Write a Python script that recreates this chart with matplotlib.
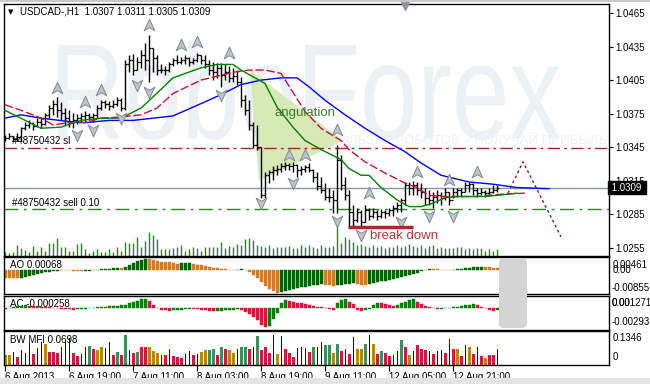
import numpy as np
import matplotlib
matplotlib.use('Agg')
import matplotlib.pyplot as plt
from matplotlib.path import Path
from matplotlib.patches import PathPatch, Polygon, FancyBboxPatch, Rectangle
from matplotlib.textpath import TextPath
from matplotlib.font_manager import FontProperties
from matplotlib.transforms import Affine2D, IdentityTransform, blended_transform_factory

plt.rcParams['font.family'] = ['Liberation Sans', 'DejaVu Sans']

W, H = 650, 384

# ---------------- data: USDCAD H1 bars ----------------
first_open = 1.0354
highs = [1.0356, 1.0358, 1.0355, 1.0358, 1.0363, 1.0368, 1.0369, 1.0368, 1.0371, 1.0371,
         1.0376, 1.0383, 1.0387, 1.0390, 1.0385, 1.0380, 1.0378, 1.0376, 1.0375, 1.0376,
         1.0377, 1.0376, 1.0376, 1.0383, 1.0387, 1.0387, 1.0386, 1.0387, 1.0390, 1.0389,
         1.0423, 1.0427, 1.0428, 1.0426, 1.0432, 1.0438, 1.0445, 1.0434, 1.0427, 1.0419,
         1.0418, 1.0421, 1.0425, 1.0427, 1.0426, 1.0427, 1.0426, 1.0425, 1.0429, 1.0427,
         1.0427, 1.0423, 1.0421, 1.0420, 1.0420, 1.0419, 1.0418, 1.0416, 1.0414, 1.0408,
         1.0392, 1.0387, 1.0368, 1.0365, 1.0345, 1.0323, 1.0325, 1.0328, 1.0329, 1.0331,
         1.0332, 1.0331, 1.0332, 1.0330, 1.0328, 1.0329, 1.0331, 1.0326, 1.0323, 1.0318,
         1.0313, 1.0309, 1.0307, 1.0347, 1.0338, 1.0318, 1.0307, 1.0293, 1.0291, 1.0289,
         1.0293, 1.0291, 1.0291, 1.0289, 1.0290, 1.0289, 1.0291, 1.0293, 1.0296, 1.0300,
         1.0314, 1.0314, 1.0315, 1.0314, 1.0313, 1.0309, 1.0307, 1.0305, 1.0307, 1.0305,
         1.0309, 1.0305, 1.0309, 1.0309, 1.0309, 1.0314, 1.0314, 1.0313, 1.0309, 1.0309,
         1.0307, 1.0309, 1.0311, 1.0311]
lows = [1.0351, 1.0352, 1.0351, 1.0351, 1.0351, 1.0360, 1.0362, 1.0360, 1.0363, 1.0362,
        1.0365, 1.0371, 1.0374, 1.0372, 1.0369, 1.0365, 1.0363, 1.0362, 1.0366, 1.0368,
        1.0368, 1.0369, 1.0368, 1.0371, 1.0378, 1.0380, 1.0378, 1.0380, 1.0382, 1.0377,
        1.0378, 1.0412, 1.0410, 1.0414, 1.0416, 1.0414, 1.0403, 1.0412, 1.0410, 1.0411,
        1.0410, 1.0412, 1.0418, 1.0419, 1.0419, 1.0419, 1.0418, 1.0419, 1.0421, 1.0419,
        1.0416, 1.0410, 1.0405, 1.0407, 1.0399, 1.0405, 1.0403, 1.0403, 1.0401, 1.0381,
        1.0374, 1.0360, 1.0344, 1.0343, 1.0300, 1.0300, 1.0313, 1.0316, 1.0320, 1.0323,
        1.0325, 1.0325, 1.0323, 1.0318, 1.0320, 1.0323, 1.0323, 1.0314, 1.0307, 1.0304,
        1.0298, 1.0296, 1.0286, 1.0286, 1.0307, 1.0298, 1.0274, 1.0275, 1.0278, 1.0274,
        1.0278, 1.0280, 1.0282, 1.0280, 1.0282, 1.0282, 1.0284, 1.0284, 1.0287, 1.0287,
        1.0293, 1.0302, 1.0302, 1.0302, 1.0300, 1.0293, 1.0293, 1.0291, 1.0295, 1.0293,
        1.0298, 1.0293, 1.0300, 1.0301, 1.0301, 1.0305, 1.0305, 1.0302, 1.0301, 1.0302,
        1.0301, 1.0302, 1.0304, 1.0305]
closes = [1.0353, 1.0355, 1.0352, 1.0354, 1.0362, 1.0365, 1.0367, 1.0364, 1.0368, 1.0366,
          1.0374, 1.0380, 1.0384, 1.0378, 1.0376, 1.0371, 1.0368, 1.0369, 1.0371, 1.0373,
          1.0374, 1.0372, 1.0374, 1.0380, 1.0385, 1.0384, 1.0382, 1.0384, 1.0387, 1.0380,
          1.0419, 1.0423, 1.0414, 1.0421, 1.0427, 1.0423, 1.0434, 1.0425, 1.0414, 1.0414,
          1.0414, 1.0419, 1.0423, 1.0421, 1.0423, 1.0425, 1.0421, 1.0423, 1.0427, 1.0423,
          1.0419, 1.0414, 1.0412, 1.0416, 1.0410, 1.0412, 1.0407, 1.0409, 1.0403, 1.0387,
          1.0378, 1.0365, 1.0347, 1.0345, 1.0302, 1.0320, 1.0323, 1.0325, 1.0326, 1.0328,
          1.0329, 1.0328, 1.0329, 1.0325, 1.0326, 1.0327, 1.0325, 1.0318, 1.0310, 1.0307,
          1.0301, 1.0301, 1.0298, 1.0334, 1.0311, 1.0302, 1.0287, 1.0280, 1.0287, 1.0278,
          1.0289, 1.0284, 1.0287, 1.0284, 1.0287, 1.0286, 1.0289, 1.0291, 1.0293, 1.0298,
          1.0311, 1.0309, 1.0311, 1.0307, 1.0305, 1.0300, 1.0298, 1.0301, 1.0302, 1.0300,
          1.0305, 1.0298, 1.0305, 1.0307, 1.0305, 1.0311, 1.0312, 1.0307, 1.0304, 1.0305,
          1.0304, 1.0305, 1.0307, 1.0309]
volumes = [400, 300, 400, 1100, 800, 600, 400, 1000, 500, 900,
           500, 1300, 1300, 1800, 900, 900, 500, 500, 1200, 1300,
           700, 300, 500, 700, 400, 400, 700, 400, 900, 500,
           1400, 1300, 1300, 1900, 900, 1500, 2400, 2100, 1700, 700,
           700, 700, 800, 900, 1100, 500, 700, 900, 800, 500,
           900, 900, 900, 900, 1400, 800, 1000, 900, 1200, 1100,
           1700, 1800, 1600, 1100, 1000, 900, 1100, 800, 900, 900,
           900, 1000, 800, 800, 1100, 900, 1100, 900, 800, 1100,
           900, 900, 1000, 3500, 1300, 1900, 1700, 1400, 1100, 1200,
           1000, 900, 1100, 900, 1000, 800, 900, 900, 1100, 900,
           1000, 1200, 1000, 900, 1100, 800, 1000, 1100, 800, 900,
           800, 800, 800, 900, 900, 700, 800, 700, 800, 800,
           500, 700, 500, 700]

# Alligator lines (bar index, price)
jaw_x = [0, 4, 9, 16, 20, 26, 32, 37, 42, 49, 54, 59, 64, 69, 73, 76, 80, 85, 90, 95,
         100, 104, 109, 116, 122, 128, 136]
jaw_y = [1.0371, 1.0374, 1.0371, 1.0368, 1.0367, 1.0369, 1.0369, 1.0371, 1.0373, 1.0384,
         1.0392, 1.0401, 1.0405, 1.0407, 1.0407, 1.0399, 1.0387, 1.0374, 1.0362, 1.0351,
         1.0341, 1.0331, 1.0320, 1.0314, 1.0312, 1.0309, 1.0308]
teeth_x = [0, 4, 9, 12, 16, 20, 24, 29, 34, 38, 42, 49, 57, 61, 65, 69, 72, 75, 79, 84,
           86, 90, 95, 100, 103, 106, 110, 118, 124, 130]
teeth_y = [1.0383, 1.0378, 1.0371, 1.0365, 1.0367, 1.0367, 1.0371, 1.0372, 1.0374, 1.0380,
           1.0393, 1.0405, 1.0412, 1.0414, 1.0414, 1.0411, 1.0394, 1.0377, 1.0362, 1.0351,
           1.0343, 1.0332, 1.0322, 1.0313, 1.0309, 1.0302, 1.0301, 1.0301, 1.0303, 1.0304]
lips_x = [0, 9, 14, 19, 24, 29, 34, 37, 42, 49, 53, 57, 59, 62, 65, 68, 72, 75, 79, 84,
          86, 89, 91, 94, 98, 101, 104, 107, 110, 113, 116, 120, 123, 128]
lips_y = [1.0378, 1.0362, 1.0363, 1.0369, 1.0371, 1.0371, 1.0380, 1.0390, 1.0407, 1.0416,
          1.0419, 1.0419, 1.0414, 1.0408, 1.0402, 1.0381, 1.0363, 1.0351, 1.0343, 1.0334,
          1.0326, 1.0320, 1.0320, 1.0309, 1.0298, 1.0292, 1.0292, 1.0295, 1.0300, 1.0301,
          1.0301, 1.0301, 1.0302, 1.0304]

# fractals
frac_up_idx = [13, 20, 24, 36, 44, 48, 56, 71, 75, 83, 91, 103, 111, 118]
frac_up_price = [1.0398, 1.0385, 1.0396, 1.0454, 1.0436, 1.0439, 1.0429, 1.0338, 1.0338,
                 1.0360, 1.0304, 1.0323, 1.0316, 1.0323]
frac_dn_idx = [18, 22, 29, 33, 36, 54, 64, 72, 83, 89, 99, 106, 112]
frac_dn_price = [1.0356, 1.0360, 1.0371, 1.0401, 1.0394, 1.0392, 1.0295, 1.0313, 1.0279,
                 1.0267, 1.0278, 1.0284, 1.0284]

# order lines
sl_price = 1.0344
entry_price = 1.0290
last_price = 1.0309

# Awesome Oscillator
ao = [-0.0027, -0.0028, -0.0029, -0.0030, -0.0027, -0.0024, -0.0020, -0.0017, -0.0014, -0.0011,
      -0.0008, -0.0006, -0.0004, -0.0002, 0.0001, 0.0000, -0.0001, -0.0002, -0.0003, -0.0004,
      -0.0003, -0.0002, -0.0001, 0.0001, 0.0003, 0.0004, 0.0005, 0.0006, 0.0008, 0.0007,
      0.0011, 0.0017, 0.0024, 0.0031, 0.0036, 0.0040, 0.0038, 0.0035, 0.0032, 0.0030,
      0.0028, 0.0027, 0.0024, 0.0022, 0.0023, 0.0024, 0.0025, 0.0022, 0.0019, 0.0016,
      0.0013, 0.0010, 0.0008, 0.0006, 0.0004, 0.0002, 0.0001, 0.0000, 0.0001, 0.0002,
      0.0001, -0.0008, -0.0018, -0.0030, -0.0043, -0.0056, -0.0067, -0.0076, -0.0082, -0.0079,
      -0.0075, -0.0071, -0.0067, -0.0064, -0.0061, -0.0059, -0.0057, -0.0055, -0.0053, -0.0051,
      -0.0053, -0.0055, -0.0056, -0.0054, -0.0052, -0.0050, -0.0049, -0.0048, -0.0050, -0.0052,
      -0.0053, -0.0050, -0.0047, -0.0044, -0.0041, -0.0038, -0.0035, -0.0032, -0.0029, -0.0026,
      -0.0022, -0.0018, -0.0014, -0.0010, -0.0005, 0.0001, 0.0004, 0.0003, 0.0002, 0.0001,
      0.0000, -0.0001, 0.0001, 0.0003, 0.0005, 0.0007, 0.0008, 0.0009, 0.0010, 0.0011,
      0.0010, 0.0009, 0.0008, 0.00068]

# Accelerator Oscillator
ac = [-0.00010, 0.00005, 0.00015, 0.00025, 0.00035, 0.00040, 0.00030, 0.00025, 0.00030, 0.00020,
      0.00015, 0.00010, 0.00005, 0.00000, -0.00005, -0.00010, -0.00015, -0.00020, -0.00015, -0.00010,
      -0.00005, 0.00000, 0.00005, 0.00010, 0.00015, 0.00020, 0.00025, 0.00030, 0.00035, 0.00040,
      0.00050, 0.00070, 0.00090, 0.00105, 0.00120, 0.00127, 0.00095, 0.00040, 0.00000, -0.00020,
      -0.00030, -0.00035, -0.00030, -0.00025, -0.00020, -0.00015, -0.00010, -0.00012, -0.00015, -0.00020,
      -0.00030, -0.00040, -0.00045, -0.00040, -0.00035, -0.00030, -0.00025, -0.00020, -0.00015, -0.00030,
      -0.00050, -0.00080, -0.00120, -0.00165, -0.00225, -0.00265, -0.00240, -0.00150, -0.00060, 0.00070,
      0.00116, 0.00093, 0.00080, 0.00070, 0.00065, 0.00056, 0.00047, 0.00037, 0.00023, 0.00014,
      0.00000, -0.00014, -0.00020, 0.00070, 0.00110, 0.00125, 0.00090, 0.00060, -0.00020, -0.00045,
      -0.00030, -0.00010, 0.00040, 0.00070, 0.00065, 0.00055, 0.00040, 0.00030, 0.00045, 0.00070,
      0.00090, 0.00110, 0.00120, 0.00090, 0.00060, 0.00030, 0.00010, 0.00000, -0.00010, -0.00005,
      0.00000, 0.00005, 0.00010, 0.00015, 0.00025, 0.00040, 0.00050, 0.00055, 0.00040, 0.00020,
      0.00000, -0.00020, -0.00035, -0.000258]

# Bill Williams Market Facilitation Index and its zone per bar
mfi = [0.041, 0.041, 0.056, 0.034, 0.063, 0.049, 0.095, 0.046, 0.071, 0.100,
       0.088, 0.056, 0.053, 0.049, 0.078, 0.098, 0.115, 0.049, 0.037, 0.046,
       0.078, 0.081, 0.066, 0.063, 0.078, 0.071, 0.100, 0.041, 0.056, 0.041,
       0.129, 0.063, 0.049, 0.056, 0.078, 0.078, 0.078, 0.060, 0.049, 0.041,
       0.041, 0.066, 0.037, 0.034, 0.030, 0.044, 0.059, 0.041, 0.044, 0.056,
       0.063, 0.063, 0.066, 0.041, 0.075, 0.070, 0.063, 0.049,
       0.070, 0.075, 0.075, 0.066, 0.075, 0.125, 0.063, 0.075, 0.049, 0.129, 0.046, 0.125,
       0.066, 0.049, 0.034, 0.071, 0.075, 0.071, 0.056, 0.075, 0.075, 0.100,
       0.085, 0.085, 0.051, 0.090, 0.060, 0.068, 0.045, 0.119, 0.068, 0.068,
       0.090, 0.129, 0.090, 0.046, 0.060, 0.051, 0.037, 0.041, 0.060, 0.107,
       0.075, 0.041, 0.060, 0.085, 0.066, 0.063, 0.060, 0.046, 0.060, 0.063,
       0.051, 0.110, 0.068, 0.068, 0.037, 0.085, 0.078, 0.046, 0.078, 0.037,
       0.030, 0.041, 0.041, 0.0698]
mfi_zone = ("YYNRNNNRNN" "YRRRNNNRRN" "NGRYYNNRGR" "GNRGRRYYYN" "RNRRRNNRNY"
            "YGGRGRYY" "NGGRNGRRRNYN" "RRRNNNRGNN" "GGYGRNRNYY" "GNYRGRRNNG"
            "RYNRRRNRNN" "RNRYRNYRNR" "YRRN")

tick_idx = [0, 16, 32, 48, 64, 80, 96, 112]
tick_labels = ['6 Aug 2013', '6 Aug 19:00', '7 Aug 11:00', '8 Aug 03:00',
               '8 Aug 19:00', '9 Aug 11:00', '12 Aug 05:00', '12 Aug 21:00']
price_ticks = [1.0465, 1.0435, 1.0405, 1.0375, 1.0345, 1.0315, 1.0285, 1.0255]

# ---------------- layout ----------------
fig = plt.figure(figsize=(6.5, 3.84), dpi=100)
fig.patch.set_facecolor('white')


def rect(x0, y0, x1, y1):
    return [x0 / W, 1 - y1 / H, (x1 - x0) / W, (y1 - y0) / H]


ax = fig.add_axes(rect(4, 4, 609, 255.5))
ax_ao = fig.add_axes(rect(4, 257, 609, 294))
ax_ac = fig.add_axes(rect(4, 296, 609, 329.5))
ax_mfi = fig.add_axes(rect(4, 331, 609, 364.5))

x = np.arange(len(closes))
for a in (ax, ax_ao, ax_ac, ax_mfi):
    a.set_xlim(-0.25, 151)
    a.set_xticks([])
    a.set_yticks([])
    for s in a.spines.values():
        s.set_linewidth(1.0)
        s.set_color('black')

ax.set_ylim(1.02483, 1.04730)

# watermark
tp = TextPath((0, 0), 'RoboForex', size=100, prop=FontProperties(family='Liberation Sans'))
bb = tp.get_extents()
tr = Affine2D().translate(-bb.x0, -bb.y0).scale(502 / bb.width, 100 / bb.height).translate(58, H - 140)
ax.add_patch(PathPatch(tp, transform=tr, facecolor='#edf0f4', edgecolor='none', zorder=0.3))
ax.text(310 / W, 1 - 141 / H, 'ИСПОЛЬЗУЙ РОБОТОВ – ПОЛУЧАЙ ПРИБЫЛЬ', transform=fig.transFigure,
        fontsize=9.5, color='#eef1f4', va='center', ha='left', zorder=0.4)

# angulation triangle
ax.add_patch(Polygon([(61.25, 1.0414), (84.5, 1.0351), (63.5, 1.0315)], closed=True,
                     facecolor='#d6e9b6', edgecolor='none', zorder=0.6))

# order / price lines
ax.axhline(sl_price, color='#9b2d2d', lw=1, dashes=(9, 3, 2, 3), zorder=1)
ax.axhline(entry_price, color='#1f8a1f', lw=1, dashes=(10, 4, 2, 4), zorder=1)
ax.axhline(last_price, color='#8796a6', lw=1, zorder=1)
ax.text(12 / W, 1 - 141.5 / H, '#48750432 sl', transform=fig.transFigure, fontsize=7,
        va='center', ha='left', zorder=1.5)
ax.text(12 / W, 1 - 202.5 / H, '#48750432 sell 0.10', transform=fig.transFigure, fontsize=7,
        va='center', ha='left', zorder=1.5)

# volumes at bottom of the main chart
vtr = blended_transform_factory(ax.transData, ax.transAxes)
ax.vlines(x, 0, np.array(volumes) / 25150.0, transform=vtr, color='#1f8a1f', lw=1.0, zorder=1.2)

# price bars
opens = [first_open] + closes[:-1]
ax.vlines(x, lows, highs, color='black', lw=1.0, zorder=3)
ax.hlines(opens, x - 0.45, x, color='black', lw=0.9, zorder=3)
ax.hlines(closes, x, x + 0.45, color='black', lw=0.9, zorder=3)

# alligator
ax.plot(jaw_x, jaw_y, color='#0000ff', lw=1, zorder=4)
ax.plot(teeth_x, teeth_y, color='#c8103a', lw=1, ls=(0, (6, 2)), zorder=4)
ax.plot(lips_x, lips_y, color='#008000', lw=1, zorder=4)

# fractals
up_arrow = Path([(0, 1), (0.85, -0.85), (0, -0.35), (-0.85, -0.85), (0, 1)],
                [Path.MOVETO, Path.LINETO, Path.LINETO, Path.LINETO, Path.CLOSEPOLY])
dn_arrow = Path([(0, -1), (0.85, 0.85), (0, 0.35), (-0.85, 0.85), (0, -1)],
                [Path.MOVETO, Path.LINETO, Path.LINETO, Path.LINETO, Path.CLOSEPOLY])
ax.plot(frac_up_idx, frac_up_price, ls='none', marker=up_arrow, ms=9, mfc='#bcc4cc',
        mec='#808a94', mew=0.7, zorder=5)
ax.plot(frac_dn_idx, frac_dn_price, ls='none', marker=dn_arrow, ms=9, mfc='#bcc4cc',
        mec='#808a94', mew=0.7, zorder=5)
ax.plot([100], [1.0471], ls='none', marker='v', ms=6, color='#8a949e', zorder=5, clip_on=False)

# annotations
ax.text(75, 1.0376, 'angulation', color='#3b7a2e', fontsize=9.5, ha='center', va='center', zorder=6)
ax.plot([85.75, 102], [1.02737, 1.02737], color='#a52a2a', lw=2.5, solid_capstyle='butt', zorder=6)
ax.text(99.75, 1.0266, 'break down', color='#b23a3a', fontsize=9.5, ha='center', va='center', zorder=6)
ax.plot([125.75, 129.5, 139], [1.0304, 1.0332, 1.0265], color='#8b1a1a', lw=1,
        ls=(0, (2, 2)), zorder=6)

# price axis
ax.yaxis.tick_right()
ax.set_yticks(price_ticks)
ax.set_yticklabels(['%.4f' % p for p in price_ticks])
ax.tick_params(axis='y', right=True, labelright=True, length=3, width=0.8, pad=1.5, labelsize=7)
ax.text(1.0, last_price, ' 1.0309 ', transform=blended_transform_factory(ax.transAxes, ax.transData),
        ha='left', va='center', color='white', fontsize=7, zorder=10, clip_on=False,
        bbox=dict(boxstyle='square,pad=0.15', fc='black', ec='black'))

# title
fig.text(8 / W, 1 - 12 / H, '▼', fontsize=5, va='center', ha='left', family='DejaVu Sans')
fig.text(20 / W, 1 - 12 / H, 'USDCAD-,H1  1.0307 1.0311 1.0305 1.0309', fontsize=7,
         va='center', ha='left')

# AO
ax_ao.set_ylim(-0.00855, 0.00461)
ao_col = ['#d17b2c' if i == 0 or ao[i] <= ao[i - 1] else '#006400' for i in range(len(ao))]
ax_ao.bar(x, ao, width=0.75, color=ao_col, edgecolor=ao_col, lw=0.3, zorder=2)
ax_ao.text(10 / W, 1 - 265.5 / H, 'AO 0.00068', transform=fig.transFigure, fontsize=7,
           va='center', zorder=1)

# AC
ax_ac.set_ylim(-0.00293, 0.00168)
ac_col = ['#dc143c' if i == 0 or ac[i] <= ac[i - 1] else '#008000' for i in range(len(ac))]
ax_ac.bar(x, ac, width=0.75, color=ac_col, edgecolor=ac_col, lw=0.3, zorder=2)
ax_ac.text(10 / W, 1 - 304 / H, 'AC -0.000258', transform=fig.transFigure, fontsize=7,
           va='center', zorder=1)

# BW MFI
ax_mfi.set_ylim(0, 0.147)
zone_col = {'G': '#3a8f5c', 'Y': '#b8860b', 'R': '#dc143c', 'N': '#00008b'}
for i, (v, z) in enumerate(zip(mfi, mfi_zone)):
    w = 0.25 if z == 'N' else 0.75
    ax_mfi.bar(i, v, width=w, color=zone_col[z], lw=0, zorder=2)
ax_mfi.text(10 / W, 1 - 340 / H, 'BW MFI 0.0698', transform=fig.transFigure, fontsize=7,
            va='center', zorder=1)

# time axis
ax_mfi.set_xticks(tick_idx)
ax_mfi.set_xticklabels(tick_labels, fontsize=7)
ax_mfi.tick_params(axis='x', bottom=True, length=4, width=0.8, pad=1.5)
for lbl in ax_mfi.get_xticklabels():
    lbl.set_ha('left')

# right-hand indicator scale labels (overlaps as in the terminal)
for xp, yp, s in [(613, 264.5, '0.00461'), (613, 270, '0.00'), (611.5, 288, '-0.00855'),
                  (612, 303.5, '0.001271'), (612, 303.5, '0.00'), (611.5, 322, '-0.00293'),
                  (613, 338, '0.1346'), (613, 357, '0')]:
    fig.text(xp / W, 1 - yp / H, s, fontsize=7, va='center', ha='left')

# grey scroll box over AO/AC
fig.add_artist(FancyBboxPatch((499, H - 328), 28, 70, boxstyle='round,pad=0,rounding_size=5',
                              transform=IdentityTransform(), fc='#d4d4d4', ec='none', zorder=5))
# window frame
fig.add_artist(Rectangle((0, 0), W, 6, transform=IdentityTransform(), fc='#e4e4e4', ec='none', zorder=5))
fig.add_artist(Rectangle((0, H - 1.5), W, 1.5, transform=IdentityTransform(), fc='#c8c8c8', ec='none', zorder=5))

fig.savefig('out.png', dpi=100)
